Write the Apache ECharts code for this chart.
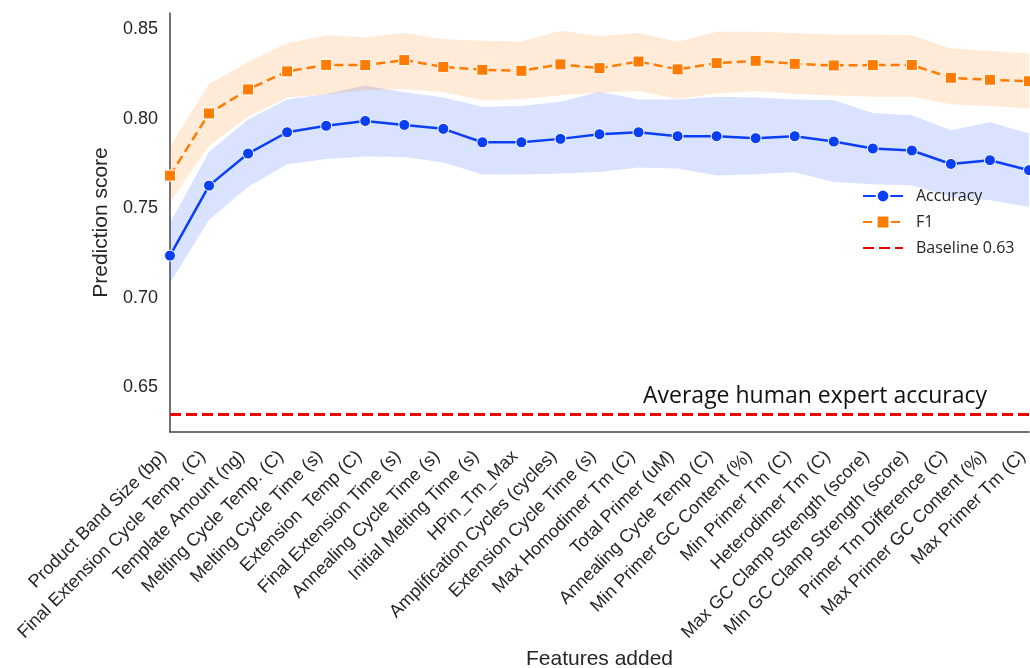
<!DOCTYPE html>
<html>
<head>
<meta charset="utf-8">
<script src="https://cdn.jsdelivr.net/npm/echarts@6/dist/echarts.min.js"></script>
<style>
html,body{margin:0;padding:0;background:#fff;}
#chart{width:1030px;height:668px;}
</style>
</head>
<body>
<div id="chart"></div>
<script>
const categories = [
  'Product Band Size (bp)', 'Final Extension Cycle Temp. (C)', 'Template Amount (ng)',
  'Melting Cycle Temp. (C)', 'Melting Cycle Time (s)', 'Extension  Temp (C)',
  'Final Extension Time (s)', 'Annealing Cycle Time (s)', 'Initial Melting Time (s)',
  'HPin_Tm_Max', 'Amplification Cycles (cycles)', 'Extension Cycle Time (s)',
  'Max Homodimer Tm (C)', 'Total Primer (uM)', 'Annealing Cycle Temp (C)',
  'Min Primer GC Content (%)', 'Min Primer Tm (C)', 'Heterodimer Tm (C)',
  'Max GC Clamp Strength (score)', 'Min GC Clamp Strength (score)',
  'Primer Tm Difference (C)', 'Max Primer GC Content (%)', 'Max Primer Tm (C)'
];
const accuracy = [0.7235, 0.7626, 0.7805, 0.7924, 0.7960, 0.7987, 0.7965, 0.7943, 0.7868, 0.7868, 0.7887, 0.7913, 0.7924, 0.7902, 0.7902, 0.7891, 0.7902, 0.7872, 0.7833, 0.7822, 0.7747, 0.7768, 0.7712];
const accLower = [0.7082, 0.7436, 0.7619, 0.7745, 0.7775, 0.7788, 0.7786, 0.7755, 0.7688, 0.7688, 0.7693, 0.7702, 0.7727, 0.7721, 0.7682, 0.7689, 0.7701, 0.7646, 0.7634, 0.7628, 0.7563, 0.7544, 0.7507];
const accUpper = [0.7417, 0.7814, 0.7995, 0.8107, 0.8137, 0.8185, 0.8148, 0.8118, 0.8066, 0.8070, 0.8094, 0.8150, 0.8107, 0.8107, 0.8122, 0.8118, 0.8107, 0.8103, 0.8032, 0.8019, 0.7935, 0.7980, 0.7917];
const f1 = [0.7682, 0.8029, 0.8163, 0.8264, 0.8300, 0.8299, 0.8327, 0.8289, 0.8273, 0.8267, 0.8303, 0.8282, 0.8319, 0.8275, 0.8310, 0.8323, 0.8306, 0.8297, 0.8299, 0.8300, 0.8228, 0.8217, 0.8209];
const f1Lower = [0.7535, 0.7848, 0.8010, 0.8118, 0.8135, 0.8159, 0.8166, 0.8148, 0.8103, 0.8109, 0.8131, 0.8144, 0.8155, 0.8110, 0.8141, 0.8155, 0.8137, 0.8129, 0.8122, 0.8122, 0.8081, 0.8070, 0.8057];
const f1Upper = [0.7846, 0.8193, 0.8317, 0.8423, 0.8466, 0.8454, 0.8479, 0.8444, 0.8435, 0.8431, 0.8491, 0.8461, 0.8479, 0.8429, 0.8485, 0.8485, 0.8479, 0.8470, 0.8470, 0.8466, 0.8392, 0.8379, 0.8364];
const baselineValue = 0.635;
const yTicks = [0.65, 0.70, 0.75, 0.80, 0.85];
const annotationText = 'Average human expert accuracy';

const accRange = accUpper.map((u, i) => u - accLower[i]);
const f1Range = f1Upper.map((u, i) => u - f1Lower[i]);

const BLUE = '#0b3ff5';
const ORANGE = '#ff7c00';
const RED = '#f00000';
const TXT = '#262626';

const chart = echarts.init(document.getElementById('chart'), null, {renderer: 'canvas'});
chart.setOption({
  animation: false,
  backgroundColor: '#fff',
  grid: {left: 170, right: 1, top: 13, bottom: 236, containLabel: false, outerBoundsMode: 'none'},
  legend: {
    orient: 'vertical', left: 862, top: 188, padding: 0,
    itemWidth: 40, itemHeight: 16, itemGap: 10,
    textStyle: {fontFamily: 'Open Sans', fontSize: 16, color: TXT, padding: [0, 0, 0, 8]},
    data: ['Accuracy', 'F1', {name: 'Baseline 0.63', itemStyle: {opacity: 0}}]
  },
  xAxis: {
    type: 'category', data: categories, boundaryGap: false,
    axisLine: {lineStyle: {color: '#444', width: 1.5}},
    axisTick: {show: false},
    axisLabel: {
      rotate: 45, interval: 0, margin: 28, verticalAlign: 'bottom',
      fontFamily: 'Liberation Sans', fontSize: 18, color: TXT
    },
    name: 'Features added', nameLocation: 'middle', nameGap: 214,
    nameTextStyle: {fontFamily: 'Liberation Sans', fontSize: 21, color: TXT}
  },
  yAxis: {
    type: 'value', min: 0.625, max: 0.859, interval: 0.025,
    axisLine: {show: true, lineStyle: {color: '#444', width: 1.5}},
    axisTick: {show: false}, splitLine: {show: false},
    axisLabel: {
      margin: 12, fontFamily: 'Liberation Sans', fontSize: 18, color: TXT,
      formatter: v => yTicks.some(t => Math.abs(t - v) < 1e-6) ? v.toFixed(2) : ''
    },
    name: 'Prediction score', nameLocation: 'middle', nameGap: 49,
    nameTextStyle: {fontFamily: 'Liberation Sans', fontSize: 21, color: TXT}
  },
  graphic: [{
    type: 'text', left: 643, top: 385,
    style: {text: annotationText, fontFamily: 'Open Sans', fontSize: 23, fill: '#111'}
  }],
  series: [
    {name: 'accLow', type: 'line', data: accLower, stack: 'acc', symbol: 'none',
     lineStyle: {opacity: 0}, silent: true, z: 1},
    {name: 'accBand', type: 'line', data: accRange, stack: 'acc', symbol: 'none',
     lineStyle: {opacity: 0}, areaStyle: {color: 'rgba(2,62,255,0.21)'}, silent: true, z: 1},
    {name: 'f1Low', type: 'line', data: f1Lower, stack: 'f1', symbol: 'none',
     lineStyle: {opacity: 0}, silent: true, z: 1},
    {name: 'f1Band', type: 'line', data: f1Range, stack: 'f1', symbol: 'none',
     lineStyle: {opacity: 0}, areaStyle: {color: 'rgba(255,124,0,0.22)'}, silent: true, z: 1},
    {name: 'Baseline 0.63', type: 'line', data: [], symbol: 'none', showSymbol: false,
     itemStyle: {color: RED},
     lineStyle: {color: RED, width: 3, type: [11, 5]},
     markLine: {
       silent: true, symbol: 'none', precision: 4, label: {show: false},
       lineStyle: {color: RED, width: 3, type: [11, 5]},
       data: [{yAxis: baselineValue}]
     }, z: 3},
    {name: 'F1', type: 'line', data: f1, symbol: 'rect', symbolSize: 11,
     itemStyle: {color: ORANGE, borderColor: '#fff', borderWidth: 1},
     lineStyle: {color: ORANGE, width: 2.5, type: [9, 5]}, z: 4},
    {name: 'Accuracy', type: 'line', data: accuracy, symbol: 'circle', symbolSize: 11,
     itemStyle: {color: BLUE, borderColor: '#fff', borderWidth: 1},
     lineStyle: {color: BLUE, width: 2.5}, z: 5}
  ]
});
</script>
</body>
</html>
